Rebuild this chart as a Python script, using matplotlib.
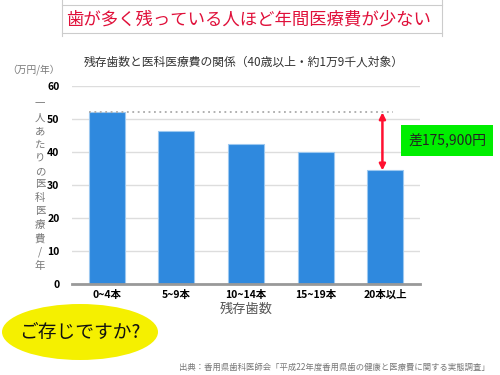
import matplotlib.pyplot as plt
from matplotlib.patches import Ellipse, Rectangle
from matplotlib.lines import Line2D

plt.rcParams["font.family"] = ["Noto Sans CJK JP", "DejaVu Sans"]

# データ
categories = ["0~4本", "5~9本", "10~14本", "15~19本", "20本以上"]
costs = [52.0, 46.3, 42.4, 39.9, 34.4]   # 万円/年
yticks = [0, 10, 20, 30, 40, 50, 60]
diff_label = "差175,900円"

fig = plt.figure(figsize=(5, 3.75), dpi=100)
ax = fig.add_axes([0.144, 0.2427, 0.696, 0.528])

x = range(len(categories))
ax.bar(x, costs, width=0.52, color="#2f89de", edgecolor="#9cc8f0", linewidth=0.8, zorder=3)

ax.set_xlim(-0.5, 4.5)
ax.set_ylim(0, 60)
ax.set_yticks(yticks)
ax.set_xticks(list(x))
ax.set_xticklabels(categories, fontsize=7.5, fontweight="bold")
ax.set_yticklabels([str(v) for v in yticks], fontsize=7.5, fontweight="bold")
ax.tick_params(length=0, pad=9)
ax.tick_params(axis="x", pad=4)
ax.grid(True, axis="y", color="#dddddd", lw=1, zorder=0)
for s in ["top", "right", "left"]:
    ax.spines[s].set_visible(False)
ax.spines["bottom"].set_color("#999999")
ax.spines["bottom"].set_linewidth(2)
ax.spines["bottom"].set_zorder(4)
ax.set_xlabel("残存歯数", fontsize=9.5, color="#555555", labelpad=2)

# 最大値の点線と差の矢印
ax.plot([-0.26, 4.11], [costs[0], costs[0]], ls=(0, (1, 2)), color="#aaaaaa", lw=1.3, zorder=4)
ax.annotate("", xy=(3.96, costs[-1]), xytext=(3.96, costs[0]),
            arrowprops=dict(arrowstyle="<|-|>", color="#ff1030", lw=1.8,
                            mutation_scale=9, shrinkA=0, shrinkB=0), zorder=5)

# 差の囲み
fig.patches.append(Rectangle((401 / 500, 1 - 156 / 375), 92 / 500, 31 / 375,
                             transform=fig.transFigure, facecolor="#00ee00", edgecolor="none"))
fig.text(447 / 500, 1 - 141 / 375, diff_label, fontsize=10, color="#222222",
         ha="center", va="center")

# タイトル枠
for yy in [5, 33]:
    fig.add_artist(Line2D([62 / 500, 442 / 500], [1 - yy / 375, 1 - yy / 375],
                          color="#cccccc", lw=0.8, transform=fig.transFigure))
for xx in [62, 442]:
    fig.add_artist(Line2D([xx / 500, xx / 500], [1, 1 - 36 / 375],
                          color="#cccccc", lw=0.8, transform=fig.transFigure))
fig.text(249 / 500, 1 - 19 / 375, "歯が多く残っている人ほど年間医療費が少ない",
         fontsize=12.5, color="#e0103a", ha="center", va="center")

fig.text(244 / 500, 1 - 62 / 375, "残存歯数と医科医療費の関係（40歳以上・約1万9千人対象）",
         fontsize=8.5, color="#333333", ha="center", va="center")
fig.text(33 / 500, 1 - 70 / 375, "（万円/年）", fontsize=7, color="#777777",
         ha="center", va="center")

ylabel = "一人あたりの医科医療費/年"
fig.text(40 / 500, 1 - 185 / 375, "\n".join(ylabel), fontsize=7.5, color="#777777",
         ha="center", va="center", linespacing=1.42)

# ご存じですか?
fig.patches.append(Ellipse((80 / 500, 1 - 332 / 375), 156 / 500, 56 / 375,
                           transform=fig.transFigure, facecolor="#f5f000", edgecolor="none"))
fig.text(80 / 500, 1 - 332 / 375, "ご存じですか?", fontsize=13.5, color="#111111",
         ha="center", va="center")

fig.text(490 / 500, 1 - 367 / 375,
         "出典：香用県歯科医師会「平成22年度香用県歯の健康と医療費に関する実態調査」",
         fontsize=6, color="#777777", ha="right", va="center")

fig.savefig("out.png", dpi=100)
